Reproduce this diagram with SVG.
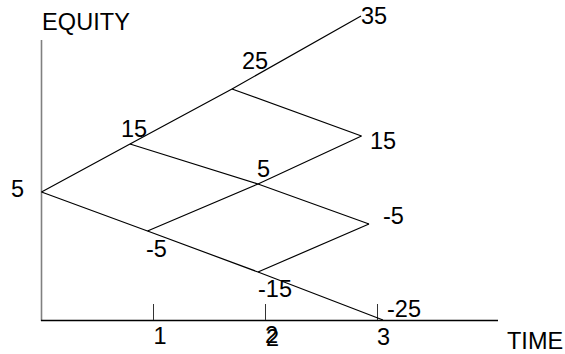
<svg xmlns="http://www.w3.org/2000/svg" width="565" height="354" viewBox="0 0 565 354">
<style>
text{font-family:"Liberation Sans",Arial,sans-serif;font-size:23.5px;fill:#000}
.br{stroke:#000;stroke-width:1.2;fill:none}
.tick{stroke:#333;stroke-width:1}
</style>
<rect width="565" height="354" fill="#fff"/>
<g id="axes">
<line x1="41.5" y1="40" x2="41.5" y2="321" stroke="#808080" stroke-width="1.6"/>
<line x1="41" y1="320.5" x2="498" y2="320.5" stroke="#000" stroke-width="1.3"/>
<line class="tick" x1="153.5" y1="304" x2="153.5" y2="320"/>
<line class="tick" x1="265.5" y1="304" x2="265.5" y2="320"/>
<line class="tick" x1="377.5" y1="304" x2="377.5" y2="320"/>
<text x="42" y="29.5" textLength="88">EQUITY</text>
<text x="507" y="349">TIME</text>
<text x="153.5" y="344">1</text>
<text x="265" y="343">2</text>
<text x="266" y="345.5">2</text>
<text x="377" y="345">3</text>
</g>
<g id="connectors">
<polyline class="br" points="41.5,192 130,144 232,89 361,16"/>
<polyline class="br" points="41.5,192 147.5,231 258,272 383,320"/>
<polyline class="br" points="130,144 258,184 369,224"/>
<polyline class="br" points="232,89 361.5,136"/>
<polyline class="br" points="147.5,231 258,184 361.5,136"/>
<polyline class="br" points="258,272 369,224"/>
</g>
<g id="n0"><text x="11" y="197">5</text></g>
<g id="n1u"><text x="121" y="137">15</text></g>
<g id="n1d"><text x="146" y="257">-5</text></g>
<g id="n2u"><text x="242" y="68.5">25</text></g>
<g id="n2m"><text x="257" y="177">5</text></g>
<g id="n2d"><text x="258" y="297">-15</text></g>
<g id="n3a"><text x="361" y="24">35</text></g>
<g id="n3b"><text x="370" y="149">15</text></g>
<g id="n3c"><text x="383" y="224">-5</text></g>
<g id="n3d"><text x="387" y="317">-25</text></g>
</svg>
